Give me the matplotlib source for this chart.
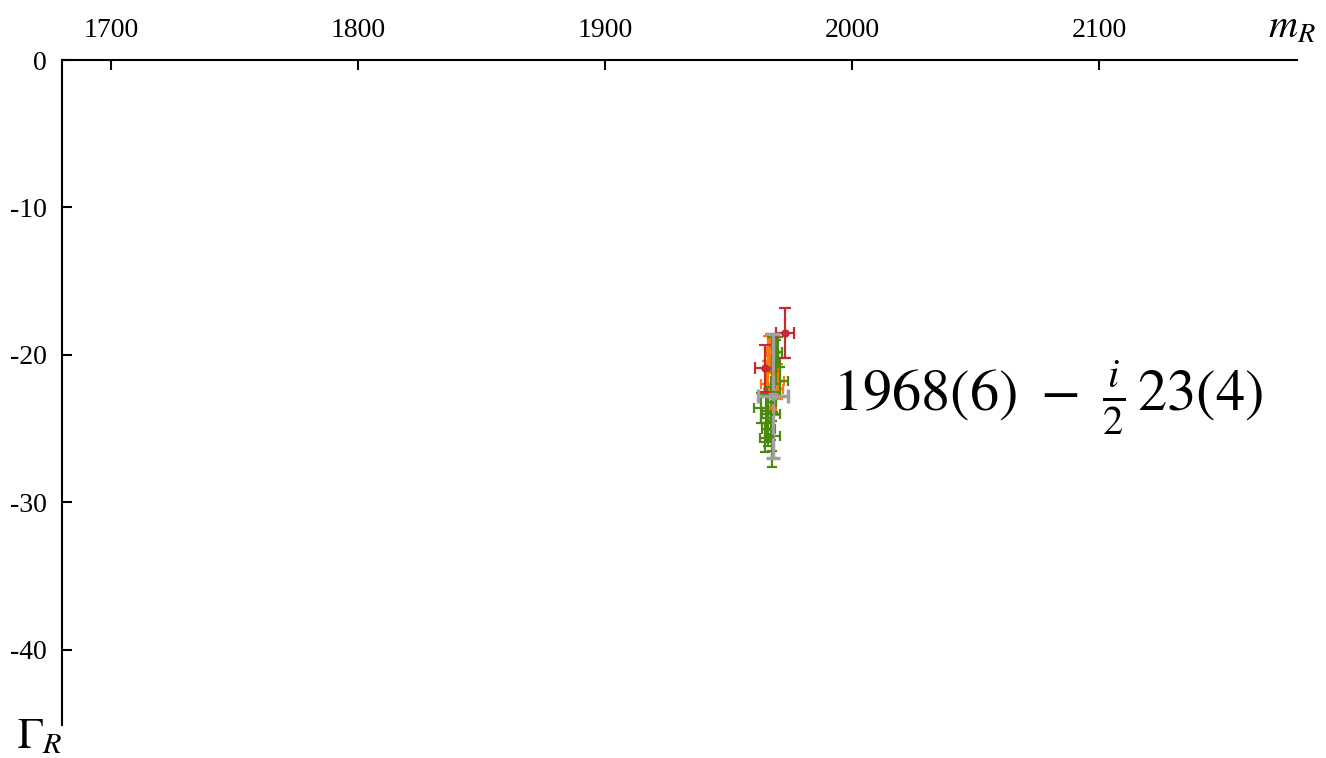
import matplotlib
matplotlib.use("Agg")
import matplotlib.pyplot as plt

plt.rcParams["font.family"] = ["Liberation Serif", "DejaVu Serif"]
plt.rcParams["mathtext.fontset"] = "stix"

# red points
red_m = [1972.7, 1964.5]
red_m_err = [3.5, 4.0]
red_g = [-18.5, -20.9]
red_g_err = [1.7, 1.6]

# orange points
orange_m = [1966.0, 1968.0, 1965.5, 1969.0, 1967.0, 1970.0, 1966.5]
orange_m_err = [1.5, 2.0, 2.5, 3.0, 1.5, 2.5, 1.0]
orange_g = [-20.5, -21.2, -22.0, -22.3, -23.5, -21.8, -19.8]
orange_g_err = [1.8, 1.5, 1.6, 1.8, 1.5, 1.2, 1.2]

# green points
green_m = [1969.0, 1970.5, 1968.0, 1963.0, 1965.0, 1967.0, 1966.0, 1964.5, 1967.5, 1967.5, 1970.0]
green_m_err = [1.5, 3.5, 2.5, 3.0, 2.0, 3.5, 2.5, 2.0, 3.0, 1.5, 1.5]
green_g = [-20.5, -21.8, -22.5, -23.6, -24.3, -24.0, -25.0, -25.6, -25.5, -23.2, -19.8]
green_g_err = [1.5, 1.0, 1.4, 1.0, 1.6, 1.8, 1.2, 1.0, 1.0, 4.4, 1.0]

# final result
res_m, res_m_err = 1967.8, 6.2
res_g, res_g_err = -22.8, 4.2

x_ticks = [1700, 1800, 1900, 2000, 2100]
y_ticks = [0, -10, -20, -30, -40]

fig = plt.figure(figsize=(13.26, 7.58), dpi=100)
ax = fig.add_axes([0.0468, 0.0435, 0.9313, 0.8773])

eb_kw = dict(fmt="o", markersize=1.5, elinewidth=1.6, capsize=3.5, capthick=1.6)
ax.errorbar(orange_m, orange_g, xerr=orange_m_err, yerr=orange_g_err, color="#ff7a0a", **eb_kw)
ax.errorbar(green_m, green_g, xerr=green_m_err, yerr=green_g_err, color="#4b8a0c", **eb_kw)
ax.errorbar(red_m, red_g, xerr=red_m_err, yerr=red_g_err, color="#c8282f",
            fmt="o", markersize=5, elinewidth=1.6, capsize=4, capthick=1.6)
ax.errorbar([res_m], [res_g], xerr=[res_m_err], yerr=[res_g_err], color="#a0a0a0",
            fmt="s", markersize=5, elinewidth=2.5, capsize=5, capthick=2.5)

ax.set_xlim(1680, 2180)
ax.set_ylim(-45.1, 0)

ax.spines["right"].set_visible(False)
ax.spines["bottom"].set_visible(False)
ax.spines["top"].set_linewidth(1.5)
ax.spines["left"].set_linewidth(1.5)

ax.xaxis.tick_top()
ax.set_xticks(x_ticks)
ax.set_yticks(y_ticks)
ax.tick_params(axis="both", direction="in", length=7.5, width=1.5, labelsize=20)
ax.tick_params(axis="x", pad=12)
ax.tick_params(axis="y", pad=11)
ax.set_yticklabels([str(v) for v in y_ticks])

fig.text(0.974, 0.963, r"$m_R$", fontsize=29, ha="center", va="center")
fig.text(0.030, 0.026, r"$\Gamma_R$", fontsize=31, ha="center", va="center")

ax.text(1992, -22.9, r"$\mathrm{1968(6)}\ -\ \frac{i}{2}\,\mathrm{23(4)}$",
        fontsize=42, ha="left", va="center")

fig.savefig("out.png", dpi=100)
